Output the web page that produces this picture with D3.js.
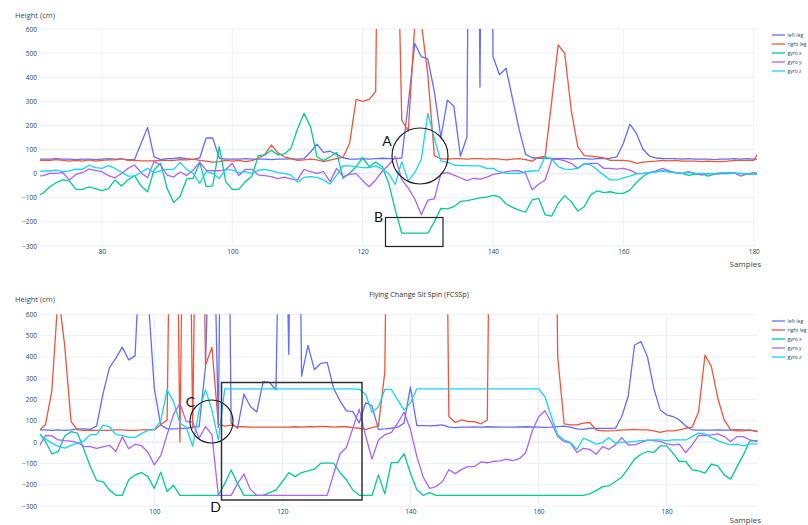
<!DOCTYPE html>
<html>
<head>
<meta charset="utf-8">
<script src="https://cdn.jsdelivr.net/npm/d3@7"></script>
<style>
  body { margin: 0; background: #fff; }
  svg { display: block; font-family: "Open Sans", sans-serif; }
</style>
</head>
<body>
<svg id="chart" width="808" height="525"></svg>
<script>
// ---- shared settings -------------------------------------------------------
const seriesNames = ["left leg", "right leg", "gyro x", "gyro y", "gyro z"];
const seriesColors = ["#636efa", "#ef553b", "#00cc96", "#ab63fa", "#19d3f3"];
const yTicks = [-300, -200, -100, 0, 100, 200, 300, 400, 500, 600];
const yTitle = "Height (cm)";
const xTitle = "Samples";

// ---- upper recording (samples 70..181) -------------------------------------
const topFirstSample = 70;
const topXTicks = [80, 100, 120, 140, 160, 180];
const topLeftLeg = [
  60,60,60,62,60,60,58,60,60,58,
  60,62,60,60,58,58,125,192,70,58,
  62,63,66,62,58,65,148,148,64,60,
  60,60,62,60,60,60,58,60,60,62,
  60,62,90,122,88,93,80,66,60,60,
  62,60,62,64,62,62,65,290,540,485,
  475,340,150,305,280,72,152,4000,358,4000,
  485,410,437,310,185,80,66,64,65,63,
  62,63,60,62,62,60,62,62,64,70,
  126,205,167,101,73,65,63,62,62,60,
  62,60,60,60,58,60,60,62,60,62,
  60,60
];
const topRightLeg = [
  55,55,55,58,55,52,55,52,57,52,
  55,57,57,62,55,55,53,53,53,55,
  55,55,58,57,60,55,52,48,50,55,
  52,55,50,54,64,80,119,86,70,62,
  55,57,60,57,50,56,62,68,126,308,
  300,308,340,3000,3000,1500,222,177,622,625,
  410,75,62,60,62,62,60,62,62,60,
  62,60,57,60,62,58,52,68,72,300,
  534,499,264,112,75,73,70,65,55,55,
  55,52,43,48,50,52,55,53,55,52,
  52,52,50,52,50,50,52,55,55,55,
  55,100
];
const topGyroX = [
  -95,-80,-54,-37,-26,-30,-65,-65,-55,-62,
  -70,-62,-26,-51,-26,-8,-51,-75,15,43,
  -61,-120,-94,-22,-19,48,-54,-51,112,-33,
  -65,-65,-33,-12,75,77,97,78,82,105,
  185,250,195,70,54,70,88,-19,2,29,
  66,29,48,29,-40,-150,-247,-247,-247,-247,
  -247,-200,-144,-146,-137,-115,-112,-107,-100,-97,
  -90,-96,-126,-140,-151,-160,-109,-102,-171,-176,
  -123,-91,-116,-155,-137,-88,-71,-79,-75,-82,
  -82,-68,-37,-12,4,8,12,8,4,1,
  -7,-3,0,-10,-2,0,0,3,0,-2,
  -2,-2
];
const topGyroY = [
  -10,-8,1,1,4,-26,-3,4,19,14,
  8,-8,-17,1,22,36,4,-17,51,36,
  -6,-14,7,-8,15,48,14,12,12,17,
  43,-8,18,18,-6,-8,-12,-21,-14,-22,
  -26,18,8,1,8,-33,22,-12,-3,0,
  -29,-54,-26,10,36,70,-25,-60,-105,-170,
  -110,-105,0,4,-6,-17,-29,-19,-23,-15,
  -3,1,8,12,12,1,-67,-44,-26,57,
  60,53,43,22,40,43,43,22,22,19,
  22,15,1,0,4,12,22,12,4,1,
  8,1,-6,1,-1,1,4,4,-10,-1,
  4,2
];
const topGyroZ = [
  8,11,11,15,8,12,19,18,35,25,
  22,33,22,6,-10,-10,6,22,4,12,
  18,18,47,18,1,-40,8,1,-20,18,
  15,4,8,1,14,18,12,4,1,-6,
  -36,-15,-12,-15,-26,-43,-6,33,32,29,
  25,25,32,20,0,-45,50,-30,5,60,
  250,145,52,48,36,33,33,32,32,22,
  22,8,1,1,1,8,11,12,71,60,
  29,19,18,22,43,36,15,-6,-26,-26,
  -17,-10,-1,1,4,8,12,8,4,1,
  4,1,1,-1,1,4,4,1,1,-1,
  -1,-1
];

// ---- lower recording (samples 82..195) -------------------------------------
const bottomTitle = "Flying Change Sit Spin (FCSSp)";
const bottomFirstSample = 82;
const bottomXTicks = [100, 120, 140, 160, 180];
const bottomLeftLeg = [
  57,57,55,57,55,57,62,62,60,76,
  229,350,394,446,386,405,1050,700,252,80,
  62,62,63,65,70,73,355,1500,70,3000,
  90,65,225,167,141,284,280,246,2000,412,
  3000,310,454,340,370,374,252,194,147,143,
  90,185,170,60,62,65,70,89,259,77,
  77,76,78,81,70,68,70,70,71,70,
  72,71,70,70,70,71,72,71,70,69,
  70,73,75,70,62,60,65,64,64,64,
  64,120,214,456,472,402,253,151,128,120,
  104,76,57,56,56,56,57,56,56,58,
  57,55,53,53
];
const bottomRightLeg = [
  54,81,240,700,455,96,57,55,55,55,
  55,55,57,57,55,55,57,57,57,81,
  104,2500,0,2500,65,2500,362,445,85,75,
  80,72,72,70,70,70,70,70,70,70,
  72,70,72,72,74,72,70,72,72,68,
  65,60,68,75,330,3000,3000,3000,3000,3000,
  3000,3000,3000,3000,120,92,104,96,96,86,
  104,3000,3000,3000,3000,3000,3000,3000,3000,3000,
  3000,400,86,81,81,89,92,57,53,53,
  54,57,57,60,57,57,53,46,53,53,
  57,65,70,143,409,354,206,104,57,53,
  53,57,49,49
];
const bottomGyroX = [
  42,3,-55,-44,29,49,42,-34,-115,-181,
  -186,-225,-250,-250,-177,-154,-143,-162,-217,-141,
  -232,-203,-250,-250,-250,-250,-250,-250,-250,-195,
  -131,-195,-250,-250,-250,-250,-237,-225,-185,-143,
  -162,-143,-135,-127,-99,-99,-99,-143,-177,-225,
  -250,-250,-250,-154,-243,-96,-96,-55,-146,-224,
  -250,-237,-250,-250,-250,-250,-250,-250,-250,-250,
  -250,-250,-250,-250,-250,-250,-250,-250,-250,-250,
  -250,-250,-250,-250,-250,-250,-243,-228,-209,-206,
  -185,-165,-123,-80,-57,-44,-49,-18,-18,-52,
  -91,-91,-130,-135,-146,-104,-112,-154,-174,-115,
  -60,5,7,7
];
const bottomGyroY = [
  -20,30,29,10,7,5,-2,-21,-21,-30,
  -22,-15,-44,25,-31,-10,-17,-48,-107,-64,
  35,130,182,95,95,18,73,35,-250,-250,
  -250,-195,-150,-222,-250,-250,-250,-250,-250,-250,
  -250,-250,-250,-250,-250,-250,-150,-55,-25,65,
  155,30,-80,10,35,45,89,140,60,-68,
  -165,-217,-209,-185,-130,-148,-128,-115,-115,-93,
  -97,-90,-88,-80,-87,-78,-50,50,118,147,
  92,26,3,-5,-49,-29,-34,-57,-21,-34,
  -13,21,-13,-13,-2,10,7,3,-8,-13,
  -10,-49,-13,31,31,34,39,26,3,26,
  26,10,3,3
];
const bottomGyroZ = [
  38,15,-5,-20,-28,-15,-5,5,35,35,
  80,72,35,32,22,22,40,55,60,100,
  245,190,90,70,-20,150,245,150,10,250,
  250,250,250,250,250,250,250,250,250,250,
  250,250,250,250,250,250,250,250,250,250,
  248,225,140,165,248,248,198,150,185,250,
  250,250,250,250,250,250,250,250,250,250,
  250,250,250,250,250,250,250,250,250,214,
  120,34,10,-2,-34,18,6,-10,-2,21,
  -5,0,0,3,7,7,10,10,7,10,
  10,10,26,42,38,21,7,-5,-13,-10,
  -18,-8,-8,-8
];

// ---- drawing ---------------------------------------------------------------
const svg = d3.select("#chart");
const tickColor = "#2a3f5f";
const gridColor = "#ebf0f8";

function drawPanel(p) {
  const x = d3.scaleLinear().domain(p.xDomain).range([p.left, p.right]);
  const y = d3.scaleLinear().domain([-300, 600]).range([p.bottom, p.top]);
  const g = svg.append("g");

  // grid
  g.append("g").selectAll("line").data(p.xTicks).join("line")
    .attr("x1", d => x(d)).attr("x2", d => x(d))
    .attr("y1", p.top).attr("y2", p.bottom)
    .attr("stroke", gridColor).attr("stroke-width", 1);
  g.append("g").selectAll("line").data(yTicks).join("line")
    .attr("x1", p.left).attr("x2", p.right)
    .attr("y1", d => y(d)).attr("y2", d => y(d))
    .attr("stroke", gridColor).attr("stroke-width", d => d === 0 ? 1.6 : 1);

  // axes (labels only)
  const ya = g.append("g").attr("transform", `translate(${p.left},0)`)
    .call(d3.axisLeft(y).tickValues(yTicks).tickSize(0).tickPadding(3));
  const xa = g.append("g").attr("transform", `translate(0,${p.bottom})`)
    .call(d3.axisBottom(x).tickValues(p.xTicks).tickSize(0).tickPadding(3).tickFormat(d3.format("d")));
  [ya, xa].forEach(a => {
    a.select(".domain").remove();
    a.selectAll("text").attr("fill", tickColor).attr("font-size", 6.5)
      .attr("font-family", '"Open Sans", sans-serif');
  });

  // series lines, clipped to the plot area
  const clipId = "clip-" + p.id;
  svg.append("clipPath").attr("id", clipId).append("rect")
    .attr("x", p.left).attr("y", p.top)
    .attr("width", p.right - p.left).attr("height", p.bottom - p.top);
  const line = d3.line()
    .x((d, i) => x(p.firstSample + i))
    .y(d => y(d));
  const lines = g.append("g").attr("clip-path", `url(#${clipId})`);
  p.series.forEach((vals, k) => {
    lines.append("path").datum(vals)
      .attr("d", line)
      .attr("fill", "none")
      .attr("stroke", seriesColors[k])
      .attr("stroke-width", 1.3)
      .attr("stroke-linejoin", "round");
  });

  // axis titles
  g.append("text").attr("x", 15).attr("y", p.yTitleY)
    .attr("font-size", 7.5).attr("fill", "#444").text(yTitle);
  g.append("text").attr("x", 761).attr("y", p.xTitleY)
    .attr("text-anchor", "end").attr("font-size", 8).attr("fill", "#444").text(xTitle);
  if (p.title) {
    g.append("text").attr("x", 419).attr("y", p.titleY)
      .attr("text-anchor", "middle").attr("font-size", 7.2).attr("fill", "#333").text(p.title);
  }

  // legend
  const lg = g.append("g");
  seriesNames.forEach((name, k) => {
    const ly = p.legendTop + k * 9;
    lg.append("line").attr("x1", 772).attr("x2", 785).attr("y1", ly).attr("y2", ly)
      .attr("stroke", seriesColors[k]).attr("stroke-width", 1.3);
    lg.append("text").attr("x", 787.5).attr("y", ly).attr("dy", "0.35em")
      .attr("font-size", 5).attr("fill", tickColor).text(name);
  });
  return g;
}

drawPanel({
  id: "top", xDomain: [70.5, 180.5], left: 40, right: 757, top: 29, bottom: 246,
  firstSample: topFirstSample, xTicks: topXTicks,
  series: [topLeftLeg, topRightLeg, topGyroX, topGyroY, topGyroZ],
  yTitleY: 18, xTitleY: 267, legendTop: 35
});
drawPanel({
  id: "bottom", xDomain: [82.15, 194.2], left: 40, right: 757.5, top: 314.3, bottom: 506,
  firstSample: bottomFirstSample, xTicks: bottomXTicks,
  series: [bottomLeftLeg, bottomRightLeg, bottomGyroX, bottomGyroY, bottomGyroZ],
  yTitleY: 302, xTitleY: 523, legendTop: 321, title: bottomTitle, titleY: 297
});

// ---- callouts ---------------------------------------------------------------
const notes = svg.append("g").attr("fill", "none").attr("stroke", "#222").attr("stroke-width", 1.2);
notes.append("circle").attr("cx", 420).attr("cy", 156).attr("r", 28);
notes.append("rect").attr("x", 385.5).attr("y", 217.5).attr("width", 57.5).attr("height", 29);
notes.append("circle").attr("cx", 211.5).attr("cy", 421.5).attr("r", 21.5);
notes.append("rect").attr("x", 221.5).attr("y", 382.5).attr("width", 140.5).attr("height", 117.5)
  .attr("stroke", "#333").attr("stroke-width", 1.5);

const letters = [
  { t: "A", x: 387, y: 141 },
  { t: "B", x: 378.5, y: 216.5 },
  { t: "C", x: 190.5, y: 401.5 },
  { t: "D", x: 215.5, y: 507 }
];
svg.append("g").selectAll("text").data(letters).join("text")
  .attr("x", d => d.x).attr("y", d => d.y)
  .attr("text-anchor", "middle").attr("dy", "0.36em")
  .attr("font-family", "Lato, 'Open Sans', sans-serif")
  .attr("font-size", 14).attr("fill", "#111")
  .text(d => d.t);
</script>
</body>
</html>
